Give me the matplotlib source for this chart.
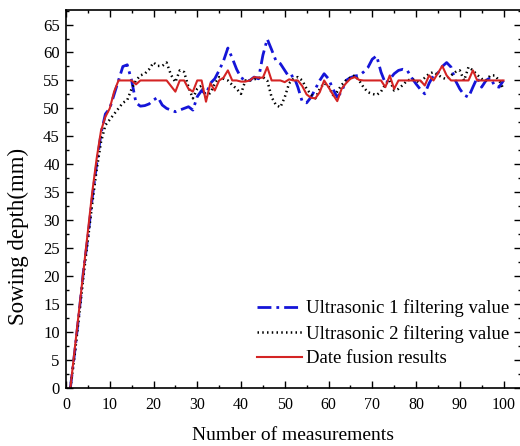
import numpy as np
import matplotlib
matplotlib.use("Agg")
import matplotlib.pyplot as plt
from matplotlib.ticker import MultipleLocator

measurements = list(range(1, 101))

ultrasonic1 = [0, 6.5, 13.5, 21, 27, 34, 40, 45.5, 49, 50,
               52.5, 55, 57.5, 57.8, 55, 51, 50.4, 50.5, 50.8, 51.5,
               52, 50.6, 50, 49.7, 49.4, 49.7, 50, 50.3, 49.7, 52.1,
               53.2, 52.5, 54.5, 55.3, 56.8, 58.5, 60.8, 59, 57, 55.5,
               55, 55, 55.6, 55.3, 59.5, 62.4, 60.5, 58.5, 58, 56.8,
               55.6, 55.9, 53.8, 51.2, 51, 52, 53.5, 55, 56.2, 55.3,
               53.5, 52, 53, 55, 55.5, 55.8, 55.9, 56.5, 57.3, 58.8,
               59.4, 56.5, 54.5, 55.2, 56.2, 56.8, 57, 56.8, 55.5, 54.4,
               53.4, 52.6, 54.5, 55.9, 56.3, 57.5, 58.2, 57.4, 55, 53.5,
               52.4, 52, 53.8, 55.5, 53.8, 55, 55.5, 54, 53.8, 55]

ultrasonic2 = [0, 6, 13, 20, 26.5, 33, 39, 44, 47, 48,
               49, 50, 51, 51.5, 53.5, 55, 55.9, 56.2, 57, 58.2,
               57.6, 57.6, 58.2, 56, 54.7, 56.8, 56.5, 53.8, 51.8, 53.5,
               54.1, 52, 52.8, 54.4, 55.6, 55.3, 55, 54.2, 53.5, 52.6,
               55, 55, 55.2, 55.4, 55.6, 55, 52, 50.6, 50.2, 52,
               54.5, 55.3, 55.6, 55, 53.5, 52.5, 51.8, 53.5, 54.5, 54,
               52.4, 53, 54.2, 55, 55.5, 55.9, 55, 53.8, 52.9, 52.6,
               52.4, 53, 54.3, 55, 53.2, 53.5, 54.2, 55, 55.2, 55,
               54.5, 55.5, 56.2, 56.5, 56, 55.5, 55.2, 55.9, 56.5, 56.8,
               55, 57.4, 56.8, 56, 55.3, 55, 55.9, 55.9, 55, 53.5]

fusion = [0, 7, 14, 21, 28, 35, 41, 46, 48.5, 50,
          53, 55, 55, 55, 55, 54.3, 55, 55, 55, 55,
          55, 55, 55, 54, 53, 55, 55, 53.5, 53, 55,
          55, 51.2, 54.5, 53.2, 55, 55.5, 56.8, 55, 55, 54.8,
          54.8, 55, 55.6, 55.5, 55.5, 57.4, 55, 55, 55, 54.7,
          55.2, 55, 55, 54, 52.5, 51.9, 51.8, 52.9, 55, 53.8,
          52.5, 51.3, 53.5, 54.5, 55.3, 55.6, 55.1, 55, 55, 55,
          55, 55, 53.8, 55.9, 53.5, 55, 55, 55, 55, 55,
          55, 54.1, 55.9, 55, 56.3, 57.6, 55.9, 55, 55, 55,
          55, 55, 56.8, 55, 55, 55, 55, 55, 55, 55]

labels = ["Ultrasonic 1 filtering value",
          "Ultrasonic 2 filtering value",
          "Date fusion results"]

plt.rcParams['font.family'] = ['Liberation Serif', 'DejaVu Serif']

fig = plt.figure(figsize=(5.2, 4.46), dpi=100)
ax = fig.add_axes([66/520, 1-388/446, 455/520, 378/446])

ax.plot(measurements, ultrasonic1, color='#1515d8', lw=2.0,
        linestyle=(0, (5, 1.8, 1, 1.8)), label=labels[0])
ax.plot(measurements, ultrasonic2, color='black', lw=1.8,
        linestyle=(0, (0.6, 1.3)), label=labels[1])
ax.plot(measurements, fusion, color='#d42424', lw=1.5, label=labels[2])

ax.set_xlim(0, 104)
ax.set_ylim(0, 67.6)
ax.xaxis.set_major_locator(MultipleLocator(10))
ax.xaxis.set_minor_locator(MultipleLocator(5))
ax.yaxis.set_major_locator(MultipleLocator(5))
ax.yaxis.set_minor_locator(MultipleLocator(2.5))
ax.tick_params(which='both', direction='in', top=True, right=True, width=1.0)
ax.tick_params(which='major', length=5)
ax.tick_params(which='minor', length=2.5)
ax.tick_params(axis='x', which='major', labelsize=11.5, pad=6.5)
ax.tick_params(axis='y', which='major', labelsize=12, pad=4.5)
for s in ax.spines.values():
    s.set_linewidth(1.2)

ax.set_xlabel("Number of measurements", fontsize=14, va='center')
ax.xaxis.set_label_coords(0.5, -0.125)
ax.set_ylabel("Sowing depth(mm)", fontsize=16.5, va='center')
ax.yaxis.set_label_coords(-0.105, 0.40)

ax.legend(loc='lower right', bbox_to_anchor=(0.975, 0.055), frameon=False,
          fontsize=13.5, handlelength=2.4, handletextpad=0.25,
          labelspacing=0.4, borderpad=0.0, borderaxespad=0.0)

fig.savefig("out.png", dpi=100)
